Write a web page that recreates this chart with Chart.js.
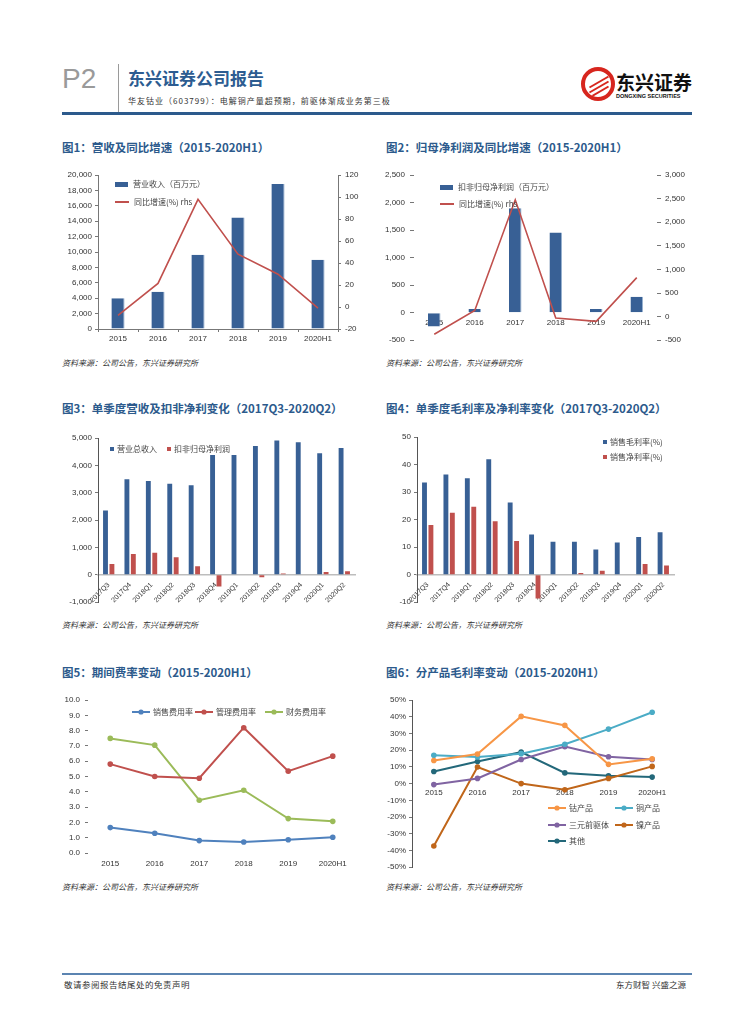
<!DOCTYPE html>
<html>
<head>
<meta charset="utf-8">
<script src="https://cdn.jsdelivr.net/npm/chart.js@4"></script>
<style>
  body { margin: 0; width: 755px; height: 1024px; position: relative; overflow: hidden; background: #fff;
         font-family: "Noto Sans CJK SC", "Noto Sans", sans-serif; }
  canvas { position: absolute; }
  .abs { position: absolute; white-space: nowrap; }
  .ttl { position: absolute; white-space: nowrap; font-size: 11.5px; font-weight: bold; color: #2c5a8c; }
  .src { position: absolute; white-space: nowrap; font-size: 8px; font-style: italic; color: #333; }
  .lg { position: absolute; white-space: nowrap; height: 12px; line-height: 12px; font-size: 8px; color: #444;
        display: flex; align-items: center; }
</style>
</head>
<body>

<div class="abs" style="left:62px;top:63px;font:28px 'Liberation Sans',sans-serif;color:#9a9a9a;">P2</div>
<div class="abs" style="left:118px;top:64px;width:1px;height:48px;background:#9a9a9a;"></div>
<div class="abs" style="left:128px;top:65px;font-size:17px;font-weight:bold;color:#2c5c91;">东兴证券公司报告</div>
<div class="abs" style="left:128px;top:95px;font-size:8px;letter-spacing:1px;color:#333;">华友钴业（603799）：电解铜产量超预期，前驱体渐成业务第三极</div>
<div class="abs" style="left:581px;top:67px;width:26px;height:26px;border:4px solid #d7261e;border-radius:50%;overflow:hidden;background:#fff;">
  <div style="position:absolute;left:3px;top:10px;width:22px;height:2px;background:#d7261e;transform:rotate(-30deg);"></div>
  <div style="position:absolute;left:3px;top:15px;width:22px;height:2px;background:#d7261e;transform:rotate(-30deg);"></div>
  <div style="position:absolute;left:3px;top:20px;width:22px;height:2px;background:#d7261e;transform:rotate(-30deg);"></div>
</div>
<div class="abs" style="left:616px;top:68px;font-size:19px;font-weight:bold;color:#111;">东兴证券</div>
<div class="abs" style="left:616px;top:93px;font:bold 5.5px 'Liberation Sans',sans-serif;color:#111;">DONGXING SECURITIES</div>
<div class="abs" style="left:62px;top:112px;width:630px;height:3px;background:#2c5a8c;"></div>

<div class="ttl" style="left:62px;top:139px;">图1：营收及同比增速（2015-2020H1）</div>
<div class="ttl" style="left:386px;top:139px;">图2：归母净利润及同比增速（2015-2020H1）</div>
<div class="ttl" style="left:62px;top:400px;">图3：单季度营收及扣非净利变化（2017Q3-2020Q2）</div>
<div class="ttl" style="left:386px;top:400px;">图4：单季度毛利率及净利率变化（2017Q3-2020Q2）</div>
<div class="ttl" style="left:62px;top:664px;">图5：期间费率变动（2015-2020H1）</div>
<div class="ttl" style="left:386px;top:664px;">图6：分产品毛利率变动（2015-2020H1）</div>

<div class="src" style="left:62px;top:357px;">资料来源：公司公告，东兴证券研究所</div>
<div class="src" style="left:386px;top:357px;">资料来源：公司公告，东兴证券研究所</div>
<div class="src" style="left:62px;top:619px;">资料来源：公司公告，东兴证券研究所</div>
<div class="src" style="left:386px;top:619px;">资料来源：公司公告，东兴证券研究所</div>
<div class="src" style="left:62px;top:881px;">资料来源：公司公告，东兴证券研究所</div>
<div class="src" style="left:386px;top:881px;">资料来源：公司公告，东兴证券研究所</div>

<div class="abs" style="left:62px;top:973px;width:630px;height:2px;background:#5b84b1;"></div>
<div class="abs" style="left:64px;top:978px;font-size:8.5px;letter-spacing:0.5px;color:#333;">敬请参阅报告结尾处的免责声明</div>
<div class="abs" style="left:616px;top:978px;font-size:8.5px;color:#333;">东方财智 兴盛之源</div>

<script>
const years = ['2015', '2016', '2017', '2018', '2019', '2020H1'];
const quarters = ['2017Q3', '2017Q4', '2018Q1', '2018Q2', '2018Q3', '2018Q4',
                  '2019Q1', '2019Q2', '2019Q3', '2019Q4', '2020Q1', '2020Q2'];

const revenue = [4000, 4850, 9630, 14470, 18830, 8990];
const revenueYoy = [-7.7, 21.4, 97.9, 48.0, 29.8, -1.0];
const netProfit = [-250, 68, 1898, 1456, 68, 289];
const netProfitYoy = [-373, 129, 2475, -29, -100, 825];

const qRevenue = [2354, 3494, 3430, 3329, 3278, 4380, 4380, 4709, 4911, 4848, 4443, 4633];
const qProfit = [392, 759, 810, 646, 316, -430, 0, -89, 51, 0, 101, 127];
const qGross = [33.5, 36.4, 35.0, 41.9, 26.2, 14.6, 12.0, 12.0, 9.1, 11.7, 13.7, 15.4];
const qNet = [18.0, 22.5, 24.7, 19.4, 12.2, -8.7, 0, 0.6, 1.4, 0, 3.9, 3.3];

const sellRate = [1.66, 1.29, 0.81, 0.72, 0.87, 1.03];
const mgmtRate = [5.81, 5.00, 4.89, 8.19, 5.35, 6.33];
const finRate = [7.49, 7.05, 3.45, 4.10, 2.25, 2.07];

const cobalt = [13.8, 17.7, 40.2, 34.8, 11.5, 14.8];
const copper = [16.9, 15.9, 17.9, 23.5, 32.6, 42.7];
const precursor = [-0.6, 3.1, 14.4, 22.1, 16.1, 14.4];
const nickel = [-37.3, 9.9, 0, -3.7, 3.1, 10.3];
const others = [7.2, 13.2, 18.8, 6.4, 4.7, 3.9];

const BLUE = '#386095';
const RED = '#c0504d';

Chart.defaults.font.family = '"Liberation Sans", Arial, sans-serif';
Chart.defaults.font.size = 8;
Chart.defaults.color = '#333';
Chart.defaults.animation = false;

function makeCanvas(L, T, W, H) {
  const c = document.createElement('canvas');
  c.width = W; c.height = H;
  c.style.left = L + 'px'; c.style.top = T + 'px';
  c.style.width = W + 'px'; c.style.height = H + 'px';
  document.body.appendChild(c);
  return c;
}

// fixes the plot area to page coordinates x0..x1, y0..y1
function frame(L, T, W, H, x0, y0, x1, y1) {
  return {
    pad: { top: y0 - T, left: 0, bottom: 0, right: L + W - x1 },
    padR: { top: y0 - T, left: 0, bottom: 0, right: 0 },
    left: s => { s.width = x0 - L; },
    right: s => { s.width = L + W - x1; },
    bottom: s => { s.height = T + H - y1; }
  };
}

function legend(x, y, kind, color, text) {
  const d = document.createElement('div');
  d.className = 'lg';
  d.style.left = x + 'px';
  d.style.top = (y - 6) + 'px';
  let sw = '';
  if (kind === 'bar') sw = `<span style="display:inline-block;width:13px;height:5px;background:${color};margin-right:5px"></span>`;
  if (kind === 'sq') sw = `<span style="display:inline-block;width:4px;height:4px;background:${color};margin-right:3px"></span>`;
  if (kind === 'line') sw = `<svg width="14" height="6" style="margin-right:5px"><line x1="0" y1="3" x2="14" y2="3" stroke="${color}" stroke-width="2"/></svg>`;
  if (kind === 'lm') sw = `<svg width="18" height="8" style="margin-right:3px"><line x1="0" y1="4" x2="18" y2="4" stroke="${color}" stroke-width="2"/><circle cx="9" cy="4" r="2.6" fill="${color}"/></svg>`;
  d.innerHTML = sw + '<span>' + text + '</span>';
  document.body.appendChild(d);
}

const fmt = v => v.toLocaleString('en-US');
const tickGrid = { display: true, drawOnChartArea: false, tickLength: 3, color: '#777' };
const noGrid = { display: false, drawTicks: false };

// ---- 图1 ----
(function () {
  const L = 55, T = 165, W = 315, H = 185;
  const f = frame(L, T, W, H, 98, 175, 338, 329);
  new Chart(makeCanvas(L, T, W, H), {
    type: 'bar',
    data: {
      labels: years,
      datasets: [
        { type: 'line', data: revenueYoy, yAxisID: 'y1', borderColor: RED, borderWidth: 1.6,
          pointRadius: 0, order: 0 },
        { data: revenue, backgroundColor: BLUE, borderColor: '#9bb3d1',
          borderWidth: { right: 1, left: 0, top: 0, bottom: 0 }, borderSkipped: false,
          categoryPercentage: 0.33, barPercentage: 1, order: 1 }
      ]
    },
    options: {
      responsive: false,
      layout: { padding: f.padR },
      plugins: { legend: { display: false }, tooltip: { enabled: false } },
      scales: {
        x: { afterFit: f.bottom, grid: { ...tickGrid, offset: true }, border: { color: '#777' },
             ticks: { padding: 2 } },
        y: { min: 0, max: 20000, afterFit: f.left, grid: tickGrid, border: { color: '#777' },
             ticks: { stepSize: 2000, callback: fmt, padding: 3 } },
        y1: { position: 'right', min: -20, max: 120, afterFit: f.right, grid: tickGrid,
              border: { color: '#777' }, ticks: { stepSize: 20, padding: 4 } }
      }
    }
  });
  legend(115, 184, 'bar', BLUE, '营业收入（百万元）');
  legend(115, 202, 'line', RED, '同比增速(%) rhs');
})();

// ---- 图2 ----
(function () {
  const L = 385, T = 165, W = 300, H = 185;
  const f = frame(L, T, W, H, 414, 175, 657, 338);
  new Chart(makeCanvas(L, T, W, H), {
    type: 'bar',
    data: {
      labels: years,
      datasets: [
        { type: 'line', data: netProfitYoy, yAxisID: 'y1', borderColor: RED, borderWidth: 1.6,
          pointRadius: 0, order: 0 },
        { data: netProfit, backgroundColor: BLUE, borderColor: '#9bb3d1',
          borderWidth: { right: 1, left: 0, top: 0, bottom: 0 }, borderSkipped: false,
          categoryPercentage: 0.31, barPercentage: 1, order: 1 }
      ]
    },
    options: {
      responsive: false,
      layout: { padding: f.padR },
      plugins: { legend: { display: false }, tooltip: { enabled: false } },
      scales: {
        x: { position: { y: 0 }, z: 1, afterFit: f.bottom, grid: noGrid, border: { display: false },
             ticks: { padding: 5 } },
        y: { min: -500, max: 2500, afterFit: f.left, grid: { ...tickGrid, tickLength: 4 },
             border: { display: false }, ticks: { stepSize: 500, callback: fmt, padding: 5 } },
        y1: { position: 'right', min: -500, max: 3000, afterFit: f.right, grid: { ...tickGrid, tickLength: 4 },
              border: { display: false }, ticks: { stepSize: 500, callback: fmt, padding: 4 } }
      }
    }
  });
  legend(440, 187, 'bar', BLUE, '扣非归母净利润（百万元）');
  legend(440, 204, 'line', RED, '同比增速(%) rhs');
})();

// ---- 图3 ----
(function () {
  const L = 55, T = 425, W = 310, H = 185;
  const f = frame(L, T, W, H, 98, 438, 355, 597);
  new Chart(makeCanvas(L, T, W, H), {
    type: 'bar',
    data: {
      labels: quarters,
      datasets: [
        { data: qRevenue, backgroundColor: BLUE, categoryPercentage: 0.6, barPercentage: 0.76 },
        { data: qProfit, backgroundColor: RED, categoryPercentage: 0.6, barPercentage: 0.76 }
      ]
    },
    options: {
      responsive: false,
      layout: { padding: f.pad },
      plugins: { legend: { display: false }, tooltip: { enabled: false } },
      scales: {
        x: { position: { y: 0 }, z: 1, afterFit: f.bottom, grid: { display: false, tickLength: 4 },
             border: { color: '#bdbdbd', width: 1.5 },
             ticks: { minRotation: 45, maxRotation: 45, padding: 2, autoSkip: false, font: { size: 7 } } },
        y: { min: -1000, max: 5000, afterFit: f.left, grid: tickGrid, border: { color: '#555' },
             ticks: { stepSize: 1000, callback: fmt, padding: 3 } }
      }
    }
  });
  legend(110, 449, 'sq', BLUE, '营业总收入');
  legend(167, 449, 'sq', RED, '扣非归母净利润');
})();

// ---- 图4 ----
(function () {
  const L = 385, T = 425, W = 300, H = 185;
  const f = frame(L, T, W, H, 417, 437, 674, 597);
  new Chart(makeCanvas(L, T, W, H), {
    type: 'bar',
    data: {
      labels: quarters,
      datasets: [
        { data: qGross, backgroundColor: BLUE, categoryPercentage: 0.6, barPercentage: 0.76 },
        { data: qNet, backgroundColor: RED, categoryPercentage: 0.6, barPercentage: 0.76 }
      ]
    },
    options: {
      responsive: false,
      layout: { padding: f.pad },
      plugins: { legend: { display: false }, tooltip: { enabled: false } },
      scales: {
        x: { position: { y: 0 }, z: 1, afterFit: f.bottom, grid: { display: false, tickLength: 4 },
             border: { color: '#bdbdbd', width: 1.5 },
             ticks: { minRotation: 45, maxRotation: 45, padding: 2, autoSkip: false, font: { size: 7 } } },
        y: { min: -10, max: 50, afterFit: f.left, grid: tickGrid, border: { color: '#555' },
             ticks: { stepSize: 10, padding: 3 } }
      }
    }
  });
  legend(603, 442, 'sq', BLUE, '销售毛利率(%)');
  legend(603, 457, 'sq', RED, '销售净利率(%)');
})();

// ---- 图5 ----
(function () {
  const L = 55, T = 690, W = 310, H = 185;
  const f = frame(L, T, W, H, 88, 700, 355, 853);
  const ln = (data, c) => ({ data, borderColor: c, backgroundColor: c, borderWidth: 2,
                             pointRadius: 2.8, pointBorderWidth: 0 });
  new Chart(makeCanvas(L, T, W, H), {
    type: 'line',
    data: {
      labels: years,
      datasets: [ln(sellRate, '#4f81bd'), ln(mgmtRate, '#c0504d'), ln(finRate, '#9bbb59')]
    },
    options: {
      responsive: false,
      layout: { padding: f.pad },
      plugins: { legend: { display: false }, tooltip: { enabled: false } },
      scales: {
        x: { offset: true, afterFit: f.bottom, grid: noGrid, border: { display: false },
             ticks: { padding: 6 } },
        y: { min: 0, max: 10, afterFit: f.left, grid: { ...tickGrid, tickLength: 3 }, border: { display: false },
             ticks: { stepSize: 1, callback: v => v.toFixed(1), padding: 5 } }
      }
    }
  });
  legend(132, 712, 'lm', '#4f81bd', '销售费用率');
  legend(195, 712, 'lm', '#c0504d', '管理费用率');
  legend(265, 712, 'lm', '#9bbb59', '财务费用率');
})();

// ---- 图6 ----
(function () {
  const L = 385, T = 690, W = 300, H = 185;
  const f = frame(L, T, W, H, 412, 700, 674, 862);
  const ln = (data, c) => ({ data, borderColor: c, backgroundColor: c, borderWidth: 2,
                             pointRadius: 2.8, pointBorderWidth: 0 });
  new Chart(makeCanvas(L, T, W, H), {
    type: 'line',
    data: {
      labels: years,
      datasets: [ln(cobalt, '#f79646'), ln(copper, '#4bacc6'), ln(precursor, '#8064a2'),
                 ln(nickel, '#c0661a'), ln(others, '#23687a')]
    },
    options: {
      responsive: false,
      layout: { padding: f.pad },
      plugins: { legend: { display: false }, tooltip: { enabled: false } },
      scales: {
        x: { position: { y: 0 }, offset: true, afterFit: f.bottom, grid: noGrid,
             border: { display: false }, ticks: { padding: 4 } },
        y: { min: -50, max: 50, afterFit: f.left, grid: tickGrid, border: { color: '#555' },
             ticks: { stepSize: 10, callback: v => v + '%', padding: 3 } }
      }
    }
  });
  legend(548, 808, 'lm', '#f79646', '钴产品');
  legend(615, 808, 'lm', '#4bacc6', '铜产品');
  legend(548, 825, 'lm', '#8064a2', '三元前驱体');
  legend(615, 825, 'lm', '#c0661a', '镍产品');
  legend(548, 841, 'lm', '#23687a', '其他');
})();
</script>
</body>
</html>
